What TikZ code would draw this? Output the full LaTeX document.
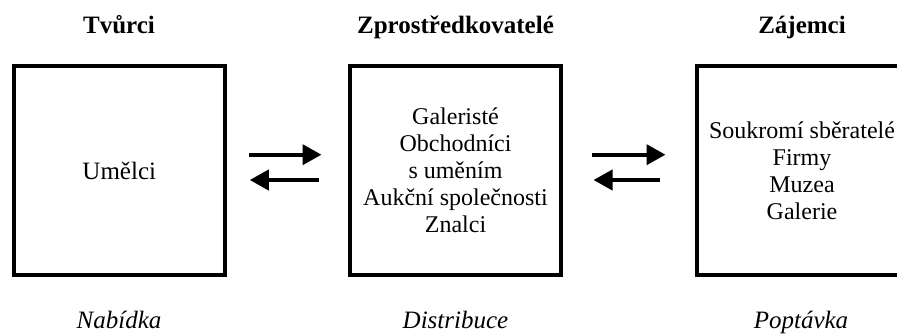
\documentclass[tikz,border=0pt]{standalone}
\usepackage{fontspec}
\setmainfont{Liberation Serif}
\usetikzlibrary{arrows.meta}

\tikzset{
  panel/.style={draw, line width=4pt, minimum width=211pt, minimum height=209pt,
    outer sep=0pt, inner sep=0pt, align=center,
    font=\fontsize{24}{27}\selectfont},
  heading/.style={font=\fontsize{25}{27}\selectfont\bfseries, inner sep=0pt, anchor=base},
  caption/.style={font=\fontsize{25}{27}\selectfont\itshape, inner sep=0pt, anchor=base,
    text depth=0pt},
  flow/.style={line width=4pt, -{Triangle[length=19pt,width=20pt]}}
}

\begin{document}
\begin{tikzpicture}[x=1pt,y=1pt]
  \clip (0,0) rectangle (897,-333);

  % three panels
  \node[panel, font=\fontsize{25}{26}\selectfont] (b1) at (119.25,-170.7) {Umělci};
  \node[panel] (b2) at (455.5,-170.7) {Galeristé\\Obchodníci\\s uměním\\Aukční společnosti\\Znalci};
  \node[panel] (b3) at (802,-170.7) {Soukromí sběratelé\\Firmy\\Muzea\\Galerie};

  % headings
  \node[heading] (h1) at (119,-33) {Tvůrci};
  \node[heading] (h2) at (455.5,-33) {Zprostředkovatelé};
  \node[heading] (h3) at (802,-33) {Zájemci};

  % captions
  \node[caption] (c1) at (119,-328) {Nabídka};
  \node[caption] (c2) at (455.5,-328) {Distribuce};
  \node[caption] (c3) at (801,-328) {Poptávka};

  % exchange arrows between panels
  \draw[flow, shorten <=24.5pt, shorten >=28.5pt]
    ([yshift=16pt]b1.east) -- ([yshift=16pt]b2.west);
  \draw[flow, shorten <=31.5pt, shorten >=25pt]
    ([yshift=-9.3pt]b2.west) -- ([yshift=-9.3pt]b1.east);
  \draw[flow, shorten <=30.5pt, shorten >=31pt]
    ([yshift=16pt]b2.east) -- ([yshift=16pt]b3.west);
  \draw[flow, shorten <=37pt, shorten >=32.5pt]
    ([yshift=-9.3pt]b3.west) -- ([yshift=-9.3pt]b2.east);
\end{tikzpicture}
\end{document}
